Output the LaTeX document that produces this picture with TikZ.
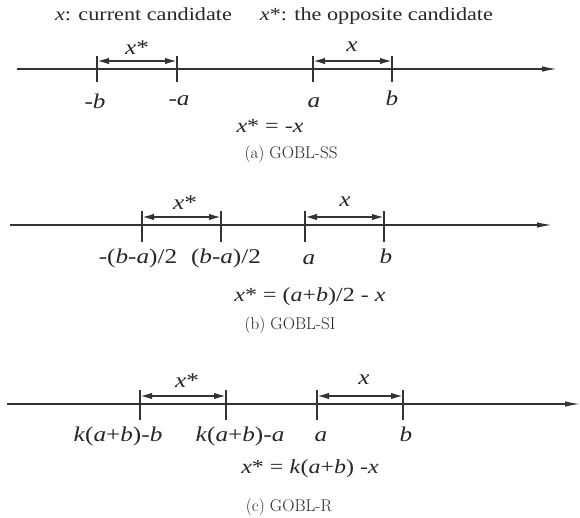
\documentclass[tikz,border=0pt]{standalone}
\usepackage{fontspec}
\newfontfamily\tnr[FakeStretch=1.2]{Liberation Serif}
\usetikzlibrary{arrows.meta}
\definecolor{linec}{HTML}{333333}
\tikzset{
  axisline/.style={draw=linec, line width=1.3pt, -{Latex[length=15pt,width=5.5pt]}},
  tickline/.style={draw=linec, line width=1.4pt},
  dimline/.style={draw=linec, line width=1.7pt, {Latex[length=12pt,width=6.5pt]}-{Latex[length=12pt,width=6.5pt]}},
  lab/.style={inner sep=0pt, text=black!85, font=\tnr\fontsize{21}{24}\selectfont},
  frm/.style={inner sep=0pt, text=black!85, font=\tnr\fontsize{20}{24}\selectfont},
  hdr/.style={inner sep=0pt, text=black!85, font=\tnr\fontsize{18.5}{21}\selectfont},
  capt/.style={inner sep=0pt, text=black!85, font=\fontsize{17}{20}\selectfont},
}
\begin{document}
\begin{tikzpicture}[x=1pt,y=-1pt]
\useasboundingbox (0,0) rectangle (580,518);
% header
\node[hdr] (hdr) at (274,16) {\textit{x}: current candidate\hspace{28pt}\textit{x}*: the opposite candidate};
% ---------- panel (a)
\coordinate (aL) at (17,69); \coordinate (aR) at (557,69);
\draw[axisline] (aL) -- (aR);
\foreach \n/\xx in {1/97,2/177,3/313,4/392}{
  \coordinate (aT\n) at (\xx,56); \coordinate (aB\n) at (\xx,82);
  \coordinate (aD\n) at (\xx,61);
  \draw[tickline] (aT\n) -- (aB\n);
}
\draw[dimline] (aD1) -- (aD2);
\draw[dimline] (aD3) -- (aD4);
\node[lab] (axs) at (137,48) {\textit{x}*};
\node[lab] (ax) at (352,47) {\textit{x}};
\node[lab] (al1) at (95,101) {-\textit{b}};
\node[lab] (al2) at (179,101) {-\textit{a}};
\node[lab] (al3) at (314,103) {\textit{a}};
\node[lab] (al4) at (392,98) {\textit{b}};
\node[frm] (af) at (270,126) {\textit{x}* = -\textit{x}};
\node[capt] (ac) at (291,154) {(a) GOBL-SS};
% ---------- panel (b)
\coordinate (bL) at (10,225); \coordinate (bR) at (552,225);
\draw[axisline] (bL) -- (bR);
\foreach \n/\xx in {1/142,2/221,3/305,4/384}{
  \coordinate (bT\n) at (\xx,211); \coordinate (bB\n) at (\xx,242);
  \coordinate (bD\n) at (\xx,217);
  \draw[tickline] (bT\n) -- (bB\n);
}
\draw[dimline] (bD1) -- (bD2);
\draw[dimline] (bD3) -- (bD4);
\node[lab] (bxs) at (185,203) {\textit{x}*};
\node[lab] (bx) at (345,202) {\textit{x}};
\node[lab] (bl1) at (138,258) {-(\textit{b}-\textit{a})/2};
\node[lab] (bl2) at (226,258) {(\textit{b}-\textit{a})/2};
\node[lab] (bl3) at (309,260) {\textit{a}};
\node[lab] (bl4) at (386,256) {\textit{b}};
\node[frm] (bf) at (310,297) {\textit{x}* = (\textit{a}+\textit{b})/2 - \textit{x}};
\node[capt] (bc) at (290,325) {(b) GOBL-SI};
% ---------- panel (c)
\coordinate (cL) at (7,404); \coordinate (cR) at (580,404);
\draw[axisline] (cL) -- (cR);
\foreach \n/\xx in {1/140,2/226,3/317,4/403}{
  \coordinate (cT\n) at (\xx,390); \coordinate (cB\n) at (\xx,420);
  \coordinate (cD\n) at (\xx,396);
  \draw[tickline] (cT\n) -- (cB\n);
}
\draw[dimline] (cD1) -- (cD2);
\draw[dimline] (cD3) -- (cD4);
\node[lab] (cxs) at (187,381) {\textit{x}*};
\node[lab] (cx) at (364,380) {\textit{x}};
\node[lab] (cl1) at (118,436) {\textit{k}(\textit{a}+\textit{b})-\textit{b}};
\node[lab] (cl2) at (240,436) {\textit{k}(\textit{a}+\textit{b})-\textit{a}};
\node[lab] (cl3) at (321,437) {\textit{a}};
\node[lab] (cl4) at (406,434) {\textit{b}};
\node[frm] (cf) at (310,469) {\textit{x}* = \textit{k}(\textit{a}+\textit{b}) -\textit{x}};
\node[capt] (cc) at (289,507) {(c) GOBL-R};
\end{tikzpicture}
\end{document}
